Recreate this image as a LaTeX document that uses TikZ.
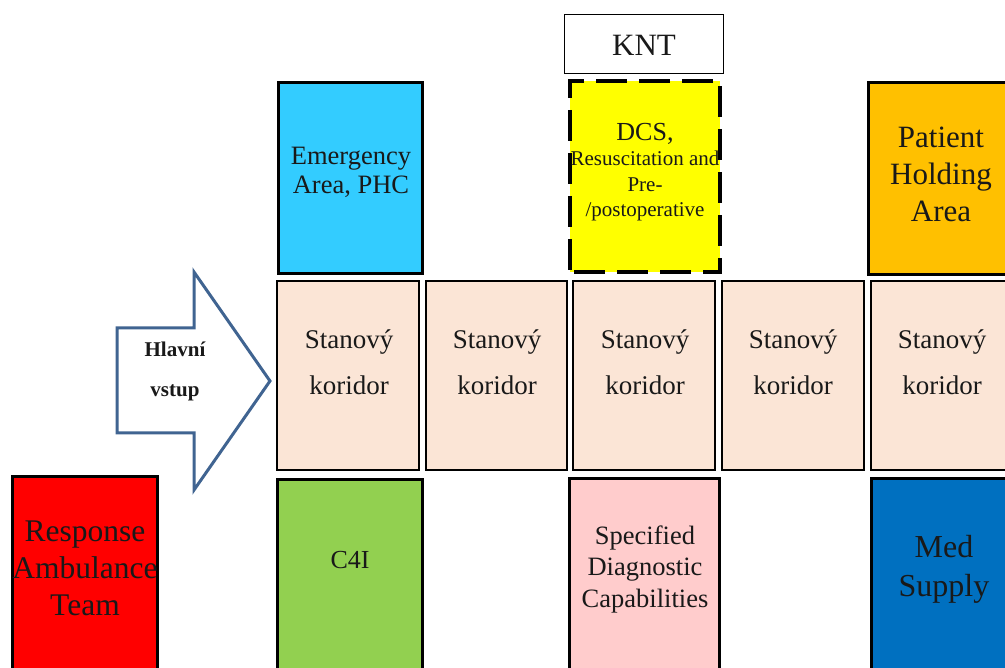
\documentclass[tikz,border=0pt]{standalone}
\usepackage{fontspec}
\setmainfont{Liberation Serif}
\definecolor{emgcol}{HTML}{33CCFF}
\definecolor{dcscol}{HTML}{FFFF00}
\definecolor{phacol}{HTML}{FFC000}
\definecolor{corcol}{HTML}{FBE5D6}
\definecolor{ratcol}{HTML}{FF0000}
\definecolor{c4icol}{HTML}{92D050}
\definecolor{sdccol}{HTML}{FFCCCC}
\definecolor{medcol}{HTML}{0070C0}
\definecolor{arrowcol}{RGB}{64,100,145}
\begin{document}
\begin{tikzpicture}[x=1pt,y=-1pt,
  area/.style={draw=black, line width=3.2pt, anchor=north west, inner sep=0pt, minimum width=#1},
  corridor/.style={draw=black, line width=1.6pt, fill=corcol, anchor=north west, inner sep=0pt,
    minimum width=#1, minimum height=189pt},
  lbl/.style={align=center, inner sep=0pt, text=black!90}
]
\useasboundingbox (0,0) rectangle (1005,668);
\clip (0,0) rectangle (1005,668);

% upper row of areas
\node[draw=black, line width=1.1pt, anchor=north west, minimum width=159pt, minimum height=59pt, inner sep=0pt] (knt) at (564,14) {};
\node[area=144pt, fill=emgcol, minimum height=191pt] (emg) at (277,81) {};
\node[area=150pt, fill=dcscol, minimum height=191pt, line width=4pt,
      dash pattern=on 31pt off 12pt, dash phase=-4pt] (dcs) at (568,79) {};
\node[area=160pt, fill=phacol, minimum height=192pt] (pha) at (867,81) {};

% tent corridor segments
\node[corridor=142pt] (cor1) at (276,280) {};
\node[corridor=141pt] (cor2) at (425,280) {};
\node[corridor=142pt] (cor3) at (572,280) {};
\node[corridor=142pt] (cor4) at (721,280) {};
\node[corridor=160pt] (cor5) at (870,280) {};

% lower row of areas
\node[area=145pt, fill=ratcol, minimum height=230pt] (rat) at (11,475) {};
\node[area=145pt, fill=c4icol, minimum height=230pt] (c4i) at (276,478) {};
\node[area=150pt, fill=sdccol, minimum height=230pt] (sdc) at (568,477) {};
\node[area=160pt, fill=medcol, minimum height=230pt] (med) at (870,477) {};

% main entrance arrow
\draw[draw=arrowcol, line width=3pt, line join=miter, fill=white]
  (117,328) -- (194,328) -- (194,272) -- (270,381) -- (194,490) -- (194,433) -- (117,433) -- cycle;

% labels
\node[lbl, font=\fontsize{31}{37}\selectfont] (kntt) at (644,45) {KNT};
\node[lbl, font=\fontsize{26.5}{29}\selectfont] (emgt) at (351,172) {Emergency\\Area, PHC};
\node[lbl, font=\fontsize{21}{25.5}\selectfont] (dcst) at (645,172)
  {{\fontsize{26}{29}\selectfont DCS,}\\Resuscitation and\\Pre-\\/postoperative};
\node[lbl, font=\fontsize{31}{37}\selectfont] (phat) at (941,174) {Patient\\Holding\\Area};
\foreach \c/\x in {cor1/349, cor2/497, cor3/645, cor4/793, cor5/942}
  \node[lbl, font=\fontsize{27}{46}\selectfont] (\c t) at (\x,362) {Stanový\\koridor};
\node[lbl, font=\bfseries\fontsize{21}{40}\selectfont] (vstup) at (175,371) {Hlavní\\vstup};
\node[lbl, font=\fontsize{31.5}{37}\selectfont] (ratt) at (85,568) {Response\\Ambulance\\Team};
\node[lbl, font=\fontsize{26}{29}\selectfont] (c4it) at (350,560) {C4I};
\node[lbl, font=\fontsize{26.5}{31.5}\selectfont] (sdct) at (645,569) {Specified\\Diagnostic\\Capabilities};
\node[lbl, font=\fontsize{32}{39}\selectfont] (medt) at (944,569) {Med\\Supply};
\end{tikzpicture}
\end{document}
